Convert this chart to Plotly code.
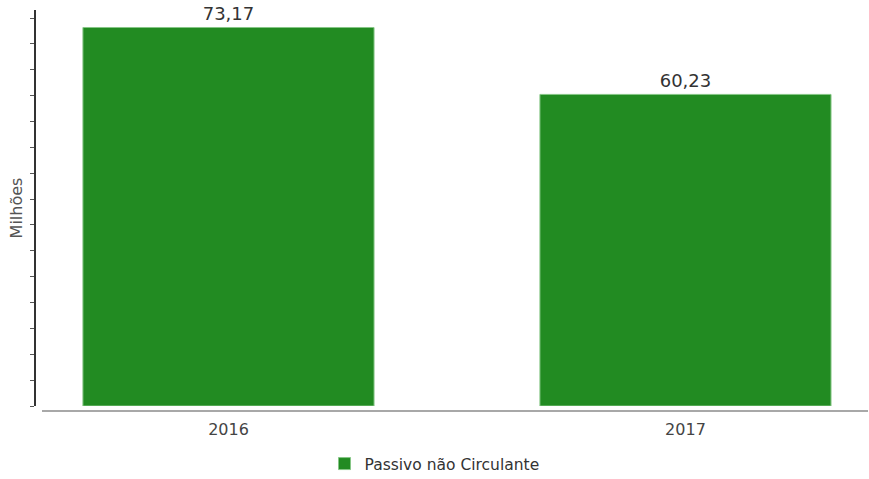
import plotly.graph_objects as go

categories = ["2016", "2017"]
values = [73.17, 60.23]
value_labels = ["73,17", "60,23"]
series_name = "Passivo não Circulante"
y_title = "Milhões"

fig = go.Figure()
fig.add_trace(go.Bar(
    x=categories,
    y=values,
    name=series_name,
    text=value_labels,
    textposition="outside",
    cliponaxis=False,
    textfont=dict(family="DejaVu Sans", size=18, color="#333333"),
    marker=dict(color="#228B22", line=dict(color="#86c686", width=1)),
    width=0.637,
    showlegend=True,
))

fig.update_layout(
    width=869, height=479,
    margin=dict(l=36, r=1, t=10, b=73),
    plot_bgcolor="white", paper_bgcolor="white",
    showlegend=True,
    legend=dict(
        orientation="h", x=0.5, xref="container", xanchor="center",
        y=1 - 464 / 479, yref="container", yanchor="middle",
        font=dict(family="DejaVu Sans", size=15.5, color="#333333"),
        itemwidth=30,
    ),
    xaxis=dict(
        type="category",
        range=[-0.4212, 1.3994],
        showline=False, showgrid=False, zeroline=False,
        ticks="", ticklabelstandoff=12,
        tickfont=dict(family="DejaVu Sans", size=16, color="#444444"),
    ),
    yaxis=dict(
        range=[0, 76.55],
        showline=True, linecolor="#333333", linewidth=2,
        showgrid=False, zeroline=False,
        ticks="outside", ticklen=4, tickcolor="#555555", tickwidth=1,
        dtick=5, tick0=0,
        showticklabels=False,
        title=dict(text=y_title, font=dict(family="DejaVu Sans", size=16, color="#555555"), standoff=3),
    ),
    shapes=[dict(
        type="line", xref="paper", yref="paper",
        x0=6 / 832, x1=1, y0=-5 / 396, y1=-5 / 396,
        line=dict(color="#a8a8a8", width=2),
    )],
)

fig.write_html("out.html")
